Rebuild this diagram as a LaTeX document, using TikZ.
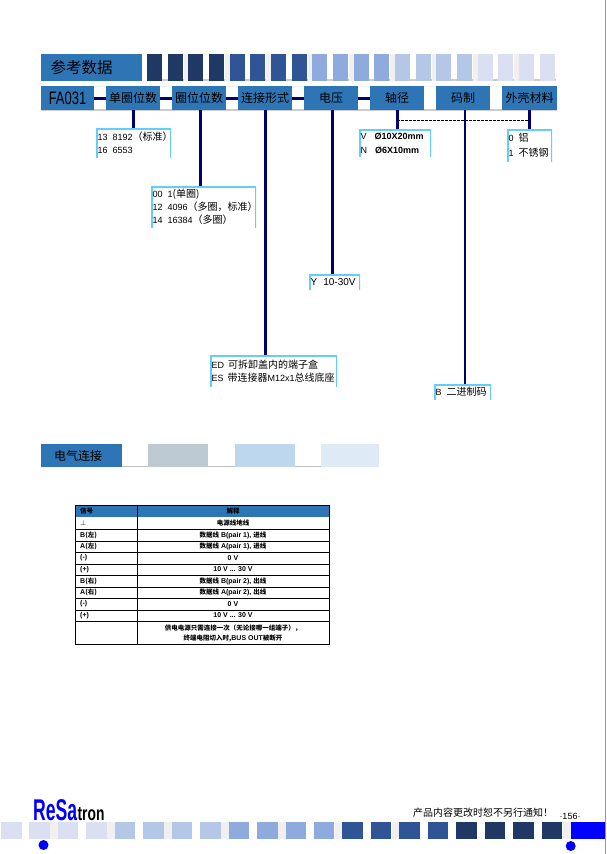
\documentclass[tikz,border=0pt]{standalone}
\usepackage{fontspec}
\setmainfont{Liberation Sans}
\newfontfamily\cjk{Noto Sans CJK SC}
\newcommand{\zh}[1]{{\cjk\fontsize{10}{13}\selectfont #1}}
\newcommand{\zs}[1]{{\cjk\fontsize{6.5}{9.5}\selectfont #1}}
\newcommand{\vrange}{10 V ... 30 V}
\definecolor{headblue}{HTML}{2E75B6}
\definecolor{navyline}{HTML}{00006E}
\definecolor{skyline}{HTML}{66CCF8}
\definecolor{stripA}{HTML}{1F3864}
\definecolor{stripB}{HTML}{2F5597}
\definecolor{stripC}{HTML}{8FAADC}
\definecolor{stripD}{HTML}{B4C7E7}
\definecolor{stripE}{HTML}{DAE0F2}
\definecolor{gapgray}{HTML}{F0F0F0}
\definecolor{tabA}{HTML}{BDC9D3}
\definecolor{tabB}{HTML}{BDD7EE}
\definecolor{tabC}{HTML}{DEEAF6}
\tikzset{
  headbox/.style={fill=headblue, minimum height=24pt, inner sep=0pt, text=black, font=\cjk\fontsize{12}{12}\selectfont},
  optbox/.style={anchor=north west, align=left, inner sep=1.5pt, font=\fontsize{9}{13}\selectfont,
    path picture={\draw[skyline, line width=3pt] (path picture bounding box.south west) |- (path picture bounding box.north east) -- (path picture bounding box.south east);}},
  conn/.style={navyline, line width=3pt},
  cell/.style={inner sep=0pt, font=\bfseries\fontsize{7}{9.5}\selectfont},
}
\begin{document}
\begin{tikzpicture}[x=1pt,y=-1pt]
  \useasboundingbox (0,0) rectangle (607,854);
  % Page edge
  \draw[gray!80, line width=1pt] (605.7,0) -- (605.7,854);

  % Top strip
  \fill[gray!40] (147,79) rectangle (556,81);
  \foreach \gapx in {183.5,224.8,266.2,307.5,348.9,390.2,431.5,472.9,514.2}
    \fill[gapgray] (\gapx,54) rectangle ++(5.6,27);
  \foreach \col [count=\i from 0] in {stripA,stripA,stripA,stripA,stripB,stripB,stripB,stripB,stripC,stripC,stripC,stripC,stripD,stripD,stripD,stripD,stripE,stripE,stripE,stripE}
    \fill[\col] (147+20.67*\i,54) rectangle ++(15,27);
  \node[fill=headblue, minimum width=101pt, minimum height=27pt, inner sep=0pt, anchor=north west, font=\cjk\fontsize{15.5}{16}\selectfont, text=black] (title) at (41,54) {\hspace{-20pt}参考数据};

  % Code row
  \fill[gapgray] (41,86) rectangle (557,87);
  \fill[gray!40] (41,109) rectangle (557,111);
  \node[headbox, minimum width=53pt] (fa) at (67.5,98) {\fontspec{Liberation Sans}\fontsize{18}{18}\selectfont\scalebox{.72}[1]{FA031}};
  \node[headbox, minimum width=54pt] (bits) at (133,98) {单圈位数};
  \node[headbox, minimum width=54pt] (turns) at (199,98) {圈位位数};
  \node[headbox, minimum width=54pt] (plug) at (265,98) {连接形式};
  \node[headbox, minimum width=54pt] (volt) at (331,98) {电压};
  \node[headbox, minimum width=54pt] (shaft) at (397,98) {轴径};
  \node[headbox, minimum width=54pt] (code) at (463,98) {码制};
  \node[headbox, minimum width=55pt] (shell) at (529.5,98) {外壳材料};

  % Joints between the codes
  \draw[conn] (fa.east) -- (bits.west);
  \draw[conn] (bits.east) -- (turns.west);
  \draw[conn] (turns.east) -- (plug.west);
  \draw[conn] (plug.east) -- (volt.west);
  \draw[conn] (volt.east) -- (shaft.west);

  % Option boxes
  \node[optbox, text width=72pt, minimum height=30pt] (optbits) at (96,128)
    {\mbox{13\hspace{5pt}8192\zh{（标准）}}\\\mbox{16\hspace{5pt}6553}};
  \node[optbox, text width=102pt, minimum height=42pt] (optturns) at (151,186)
    {\mbox{00\hspace{5pt}1\zh{(单圈)}}\\\mbox{12\hspace{5pt}4096\zh{（多圈，标准）}}\\\mbox{14\hspace{5pt}16384\zh{（多圈）}}};
  \node[optbox, text width=124pt, minimum height=32pt] (optplug) at (210,355)
    {\mbox{ED\hspace{4pt}\zh{可拆卸盖内的端子盒}}\\\mbox{ES\hspace{4pt}\zh{带连接器}M12x1\zh{总线底座}}};
  \node[optbox, text width=48pt, minimum height=16pt, font=\fontsize{10}{13}\selectfont] (optvolt) at (309,274)
    {\mbox{Y\hspace{6pt}10-30V}};
  \node[optbox, text width=69pt, minimum height=28pt, font=\fontsize{9}{13.5}\selectfont] (optshaft) at (359,129)
    {V\hspace{8pt}\textbf{Ø10X20mm}\\N\hspace{8pt}\textbf{Ø6X10mm}};
  \node[optbox, text width=54pt, minimum height=16pt] (optcode) at (434,384)
    {\mbox{B\hspace{5pt}\zh{二进制码}}};
  \node[optbox, text width=42pt, minimum height=33pt, font=\fontsize{9}{15}\selectfont] (optshell) at (507,129)
    {0\hspace{5pt}\zh{铝}\\1\hspace{5pt}\zh{不锈钢}};

  % Connectors down to the boxes
  \draw[conn] (bits.south) -- (bits.south |- optbits.north);
  \draw[conn] ([xshift=1pt]turns.south) -- ([xshift=1pt]turns.south |- optturns.north);
  \draw[conn] (plug.south) -- (plug.south |- optplug.north);
  \draw[conn] ([xshift=1pt]volt.south) -- ([xshift=1pt]volt.south |- optvolt.north);
  \draw[conn] (shaft.south) -- (shaft.south |- optshaft.north);
  \draw[navyline, line width=2.2pt] ([xshift=2pt]code.south) -- ([xshift=2pt]code.south |- optcode.north);
  \draw[conn] (shell.south) -- (shell.south |- optshell.north);
  \coordinate (dashL) at ([yshift=-10pt]shaft.south);
  \coordinate (dashR) at (shell.south |- dashL);
  \draw[dash pattern=on 3pt off 1pt, black, line width=.7pt] (dashL) -- (dashR);

  % Second heading
  \draw[gray!50, line width=1pt] (122,466.5) -- (321,466.5);
  \node[fill=headblue, minimum width=81pt, minimum height=23pt, inner sep=0pt, anchor=north west, font=\cjk\fontsize{12}{12}\selectfont, text=black] (wiring) at (41,444) {\hspace{-7pt}电气连接};
  \fill[tabA] (148,444) rectangle (208,467);
  \fill[tabB] (235,444) rectangle (295,467);
  \fill[tabC] (321,444) rectangle (379,467);

  % Table
  \fill[headblue] (75,505) rectangle (329.5,516.5);
  \foreach \ya/\yb/\sig/\desc [count=\i] in {
    516.5/529/$\perp$/\zs{电源线地线},
    529/541/B\zs{(左)}/{\zs{数据线} B(pair 1), \zs{进线}},
    541/552/A\zs{(左)}/{\zs{数据线} A(pair 1), \zs{进线}},
    552/564/(-)/0 V,
    564/575/(+)/\vrange,
    575/587/B\zs{(右)}/{\zs{数据线} B(pair 2), \zs{出线}},
    587/598/A\zs{(右)}/{\zs{数据线} A(pair 2), \zs{出线}},
    598/610/(-)/0 V,
    610/621/(+)/\vrange}
  {
    \node[cell, anchor=west] (sig\i) at (80,{(\ya+\yb)/2}) {\sig};
    \node[cell] (desc\i) at (233,{(\ya+\yb)/2}) {\desc};
    \draw[black, line width=.6pt] (75,\yb) -- (329.5,\yb);
  }
  \node[cell, anchor=west] (sighead) at (80,510.7) {\zs{信号}};
  \node[cell] (deschead) at (233,510.7) {\zs{解释}};
  \node[cell, align=center] (note) at (233,633.5) {\zs{供电电源只需连接一次（无论接哪一组端子），}\\\zs{终端电阻切入时,}BUS OUT\zs{被断开}};
  \draw[black, line width=.7pt] (75,505) rectangle (329.5,644);
  \draw[black, line width=.7pt] (137,505) -- (137,644);

  % Bottom strip
  \foreach \gapx in {50,107,164,221,278,335,392,563}
    \fill[gapgray] (\gapx,822) rectangle ++(8,17);
  \foreach \col [count=\i from 0] in {stripE,stripE,stripE,stripE,stripD,stripD,stripD,stripD,stripC,stripC,stripC,stripC,stripB,stripB,stripB,stripB,stripA,stripA,stripA,stripA}
    \fill[\col] (1+28.45*\i,822) rectangle ++(20.5,17);
  \fill[blue] (571,822) rectangle (605,839);
  \fill[blue] (43.5,845) circle (5);
  \fill[blue] (570.7,846) circle (5);

  % Logo and footer
  \node[inner sep=0pt, anchor=base west, text=blue, font=\bfseries\fontsize{30}{30}\selectfont] (logoa) at (33,820) {\scalebox{.587}[1]{ReSa}};
  \node[inner sep=0pt, anchor=base west, font=\bfseries\fontsize{20}{20}\selectfont] (logob) at (logoa.base east) {\scalebox{.69}[1]{tron}};
  \node[inner sep=0pt, anchor=west, text=black, font=\cjk\fontsize{10}{10}\selectfont] (notice) at (413,813) {产品内容更改时恕不另行通知！};
  \node[inner sep=0pt, font=\fontsize{9}{9}\selectfont] (page) at (570,816.5) {·156·};
\end{tikzpicture}
\end{document}
